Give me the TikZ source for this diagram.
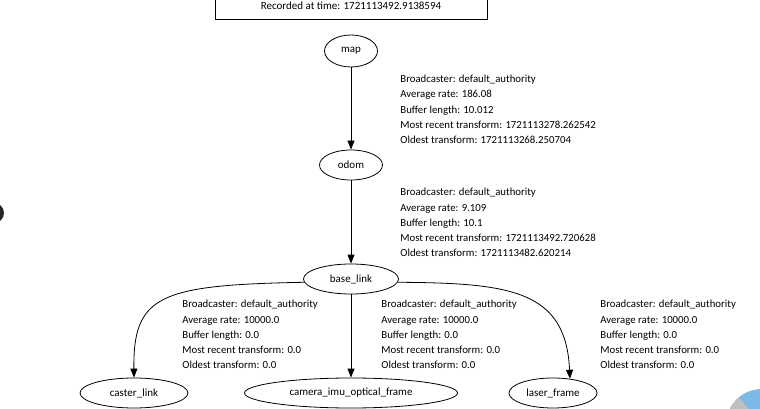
\documentclass[tikz,border=0pt]{standalone}
\usepackage{fontspec}
\setmainfont{Carlito}
\usetikzlibrary{shapes.geometric, arrows.meta}
\definecolor{globe}{RGB}{125,185,230}

\begin{document}
\begin{tikzpicture}[x=1pt, y=-1pt, line width=0.8pt,
    frame/.style={draw, ellipse, minimum height=30pt, inner sep=0pt, font=\fontsize{11}{13}\selectfont},
    info/.style={anchor=north west, align=left, inner sep=0pt, font=\fontsize{10.8}{15.1}\selectfont},
    edge/.style={-{Triangle[length=9pt, width=7pt]}}]
  \useasboundingbox (0,0) rectangle (760,409);
  \clip (0,0) rectangle (760,409);
  % header box, cut at the top
  \node[draw, anchor=south, minimum width=272pt, inner ysep=10pt, text depth=0pt,
        font=\fontsize{11}{13}\selectfont] (stamp) at (351,20) {Recorded at time: 1721113492.9138594};
  % frames
  \node[frame, minimum width=53pt, minimum height=32pt] (map) at (351,51) {map};
  \node[frame, minimum width=63pt] (odom) at (351,165) {odom};
  \node[frame, minimum width=95pt] (base) at (351,279) {base\_link};
  \node[frame, minimum width=108pt] (caster) at (134,393) {caster\_link};
  \node[frame, minimum width=213pt] (camera) at (351,393) {camera\_imu\_optical\_frame};
  \node[frame, minimum width=88pt] (laser) at (553,393) {laser\_frame};
  % transforms
  \draw[edge] (map) -- (odom);
  \draw[edge] (odom) -- (base);
  \draw[edge] (base) -- (camera);
  \draw[edge] (base.184) .. controls (160,285) and (133,295) .. (caster.north);
  \draw[edge] (base.356) .. controls (510,283) and (566,290) .. (laser.40);
  % edge labels
  \node[info] (tf1) at (400,75) {Broadcaster: default\_authority\\Average rate: 186.08\\Buffer length: 10.012\\Most recent transform: 1721113278.262542\\Oldest transform: 1721113268.250704};
  \node[info] (tf2) at (400,188) {Broadcaster: default\_authority\\Average rate: 9.109\\Buffer length: 10.1\\Most recent transform: 1721113492.720628\\Oldest transform: 1721113482.620214};
  \node[info] (tf3) at (182,300) {Broadcaster: default\_authority\\Average rate: 10000.0\\Buffer length: 0.0\\Most recent transform: 0.0\\Oldest transform: 0.0};
  \node[info] (tf4) at (381,300) {Broadcaster: default\_authority\\Average rate: 10000.0\\Buffer length: 0.0\\Most recent transform: 0.0\\Oldest transform: 0.0};
  \node[info] (tf5) at (600,300) {Broadcaster: default\_authority\\Average rate: 10000.0\\Buffer length: 0.0\\Most recent transform: 0.0\\Oldest transform: 0.0};
  % screen leftovers at the edges
  \fill[black!85] (-6,213) circle (10);
  \fill[globe] (762,425) circle (36);
  \fill[black!25] (762,425) ++(200:36) arc (200:230:36) -- (762,425) -- cycle;
\end{tikzpicture}
\end{document}
